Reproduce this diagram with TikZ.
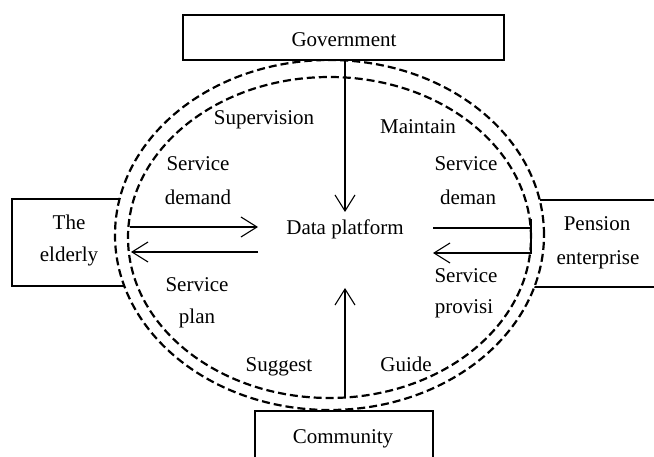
\documentclass[tikz,border=0pt]{standalone}
\usepackage{fontspec}
\setmainfont{Liberation Serif}
\usetikzlibrary{arrows.meta}
\tikzset{
  boxst/.style={draw, line width=2.4pt, rectangle, inner sep=0pt},
  lbl/.style={anchor=base, inner sep=0pt, font=\fontsize{21pt}{25pt}\selectfont},
  ring/.style={draw, dash pattern=on 8pt off 4pt, line width=2.2pt},
  arr/.style={line width=1.1pt, -{Straight Barb[length=16pt,width=20pt,line width=1.1pt]}},
  plain/.style={line width=1.1pt},
}
\begin{document}
\begin{tikzpicture}[x=1pt,y=-1pt]
\useasboundingbox (0,0) rectangle (654,457);
\clip (0,0) rectangle (654,457);
% boxes
\node[boxst, minimum width=128pt, minimum height=87pt] (elder) at (76,242.5) {};
\node[boxst, minimum width=169pt, minimum height=87pt] (pension) at (615.5,243.5) {};
\node[boxst, minimum width=178pt, minimum height=79pt] (comm) at (344,450.5) {};
% rings
\draw[ring, fill=white] (329.5,235) ellipse [x radius=214.5pt, y radius=175pt];
\draw[ring] (329.5,237.5) ellipse [x radius=201.5pt, y radius=160.5pt];
\node[boxst, fill=white, minimum width=321pt, minimum height=45pt] (gov) at (343.5,37.5) {};
% labels
\node[lbl] (tgov) at (344,47) {Government};
\node[lbl] (tsup) at (264,125) {Supervision};
\node[lbl] (tmai) at (418,134) {Maintain};
\node[lbl] (tsd1) at (198,171) {Service};
\node[lbl] (tsd2) at (198,205) {demand};
\node[lbl] (trd1) at (466,171) {Service};
\node[lbl] (trd2) at (468,205) {deman};
\node[lbl] (data) at (345,235) {Data platform};
\node[lbl] (tel1) at (69,229.5) {The};
\node[lbl] (tel2) at (69,262) {elderly};
\node[lbl] (tpe1) at (597,230.5) {Pension};
\node[lbl] (tpe2) at (598,265) {enterprise};
\node[lbl] (tsp1) at (197,292) {Service};
\node[lbl] (tsp2) at (197,324) {plan};
\node[lbl] (trp1) at (466,283) {Service};
\node[lbl] (trp2) at (464,314) {provisi};
\node[lbl] (tsug) at (279,371) {Suggest};
\node[lbl] (tgui) at (406,371) {Guide};
\node[lbl] (tcom) at (343,443) {Community};
% connector end points
\coordinate (l1a) at (130,227);
\coordinate (l1b) at (258,227);
\coordinate (l2a) at (258,252);
\coordinate (l2b) at (131,252);
\coordinate (r1a) at (433,228);
\coordinate (r1b) at (531,228);
\coordinate (r2a) at (531,253);
\coordinate (r2b) at (433,253);
\coordinate (rbar1) at (531,219);
\coordinate (rbar2) at (531,254);
\coordinate (v1a) at (345,60);
\coordinate (v1b) at (345,212);
\coordinate (v2a) at (345,398);
\coordinate (v2b) at (345,288);
% connectors
\draw[arr] (l1a) -- (l1b);
\draw[arr] (l2a) -- (l2b);
\draw[plain] (r1a) -- (r1b);
\draw[arr] (r2a) -- (r2b);
\draw[line width=2.2pt] (rbar1) -- (rbar2);
\draw[arr] (v1a) -- (v1b);
\draw[arr] (v2a) -- (v2b);
\end{tikzpicture}
\end{document}
